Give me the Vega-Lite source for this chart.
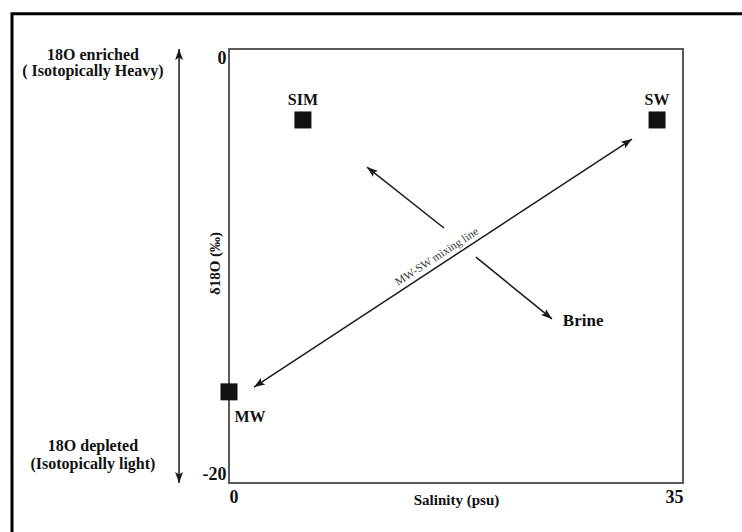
{
  "$schema": "https://vega.github.io/schema/vega-lite/v6.json",
  "width": 454,
  "height": 434,
  "autosize": {"type": "none"},
  "padding": {"left": 229, "top": 49, "right": 59, "bottom": 49},
  "background": "white",
  "config": {
    "view": {"stroke": "#5a5a5a", "strokeWidth": 2},
    "font": "Liberation Serif",
    "axis": {
      "grid": false,
      "ticks": false,
      "domain": false,
      "labelFont": "Liberation Serif",
      "labelFontWeight": "bold",
      "labelFontSize": 18,
      "labelColor": "#111",
      "titleFont": "Liberation Serif",
      "titleFontWeight": "bold",
      "titleFontSize": 15,
      "titleColor": "#111",
      "labelFlush": true
    }
  },
  "datasets": {
    "endmembers": [
      {"name": "SIM", "salinity": 5.7, "d18O": -3.27},
      {"name": "SW", "salinity": 33.0, "d18O": -3.27},
      {"name": "MW", "salinity": 0, "d18O": -15.8}
    ],
    "arrows": [
      {"id": "mixing", "salinity": 1.93, "d18O": -15.58, "salinity_end": 31.07, "d18O_end": -4.15},
      {"id": "toSIM", "salinity": 16.57, "d18O": -8.25, "salinity_end": 10.64, "d18O_end": -5.44},
      {"id": "toBrine", "salinity": 19.04, "d18O": -9.59, "salinity_end": 24.9, "d18O_end": -12.44},
      {"id": "isotope", "salinity": -3.85, "d18O": -20, "salinity_end": -3.85, "d18O_end": 0}
    ],
    "notes": [
      {"note": "Brine", "salinity": 27.3, "d18O": -12.53},
      {"note": "MW-SW mixing line", "salinity": 16.04, "d18O": -9.59},
      {"note": "18O enriched", "salinity": -10.49, "d18O": -0.28},
      {"note": "( Isotopically Heavy)", "salinity": -10.49, "d18O": -1.01},
      {"note": "18O depleted", "salinity": -10.49, "d18O": -18.29},
      {"note": "(Isotopically light)", "salinity": -10.49, "d18O": -19.12}
    ],
    "frame": [
      {"salinity": -16.73, "d18O": 1.62, "salinity_end": 120, "d18O_end": -120}
    ]
  },
  "encoding": {
    "x": {
      "field": "salinity",
      "type": "quantitative",
      "scale": {"domain": [0, 35], "nice": false, "zero": false},
      "axis": {"values": [0, 35], "title": "Salinity (psu)", "labelPadding": 5, "titleY": 9, "titleBaseline": "top", "titleAnchor": "middle"}
    },
    "y": {
      "field": "d18O",
      "type": "quantitative",
      "scale": {"domain": [-20, 0], "nice": false, "zero": false},
      "axis": {"values": [-20, 0], "labelExpr": "replace(datum.label, '\u2212', '-')", "title": "δ18O (‰)", "labelPadding": 3, "titleX": -15, "titleY": 214, "titleAngle": -90, "titleAlign": "center", "titleBaseline": "middle"}
    }
  },
  "layer": [
    {
      "data": {"name": "frame"},
      "mark": {"type": "rect", "fill": null, "filled": false, "stroke": "#000", "strokeWidth": 3},
      "encoding": {"x2": {"field": "salinity_end"}, "y2": {"field": "d18O_end"}}
    },
    {
      "data": {"name": "arrows"},
      "mark": {"type": "rule", "color": "#1a1a1a", "strokeWidth": 1.5},
      "encoding": {"x2": {"field": "salinity_end"}, "y2": {"field": "d18O_end"}}
    },
    {
      "data": {"name": "arrows"},
      "transform": [{"filter": "datum.id === 'mixing'"}],
      "mark": {"type": "point", "shape": "M0,0L0.4,1.1L0,0.85L-0.4,1.1Z", "size": 400, "filled": true, "color": "#1a1a1a", "opacity": 1, "angle": 56.7},
      "encoding": {"x": {"field": "salinity_end", "type": "quantitative"}, "y": {"field": "d18O_end", "type": "quantitative"}}
    },
    {
      "data": {"name": "arrows"},
      "transform": [{"filter": "datum.id === 'mixing'"}],
      "mark": {"type": "point", "shape": "M0,0L0.4,1.1L0,0.85L-0.4,1.1Z", "size": 400, "filled": true, "color": "#1a1a1a", "opacity": 1, "angle": 236.7}
    },
    {
      "data": {"name": "arrows"},
      "transform": [{"filter": "datum.id === 'toSIM'"}],
      "mark": {"type": "point", "shape": "M0,0L0.4,1.1L0,0.85L-0.4,1.1Z", "size": 400, "filled": true, "color": "#1a1a1a", "opacity": 1, "angle": 309.1},
      "encoding": {"x": {"field": "salinity_end", "type": "quantitative"}, "y": {"field": "d18O_end", "type": "quantitative"}}
    },
    {
      "data": {"name": "arrows"},
      "transform": [{"filter": "datum.id === 'toBrine'"}],
      "mark": {"type": "point", "shape": "M0,0L0.4,1.1L0,0.85L-0.4,1.1Z", "size": 400, "filled": true, "color": "#1a1a1a", "opacity": 1, "angle": 129.2},
      "encoding": {"x": {"field": "salinity_end", "type": "quantitative"}, "y": {"field": "d18O_end", "type": "quantitative"}}
    },
    {
      "data": {"name": "arrows"},
      "transform": [{"filter": "datum.id === 'isotope'"}],
      "mark": {"type": "point", "shape": "M0,0L0.4,1.1L0,0.85L-0.4,1.1Z", "size": 400, "filled": true, "color": "#1a1a1a", "opacity": 1, "angle": 0},
      "encoding": {"x": {"field": "salinity_end", "type": "quantitative"}, "y": {"field": "d18O_end", "type": "quantitative"}}
    },
    {
      "data": {"name": "arrows"},
      "transform": [{"filter": "datum.id === 'isotope'"}],
      "mark": {"type": "point", "shape": "M0,0L0.4,1.1L0,0.85L-0.4,1.1Z", "size": 400, "filled": true, "color": "#1a1a1a", "opacity": 1, "angle": 180}
    },
    {
      "data": {"name": "endmembers"},
      "mark": {"type": "point", "shape": "square", "size": 289, "filled": true, "color": "#111", "opacity": 1}
    },
    {
      "data": {"name": "endmembers"},
      "transform": [{"filter": "datum.name !== 'MW'"}],
      "mark": {"type": "text", "font": "Liberation Serif", "fontWeight": "bold", "fontSize": 16, "color": "#111", "align": "center", "baseline": "middle", "dy": -20},
      "encoding": {"text": {"field": "name"}}
    },
    {
      "data": {"name": "endmembers"},
      "transform": [{"filter": "datum.name === 'MW'"}],
      "mark": {"type": "text", "font": "Liberation Serif", "fontWeight": "bold", "fontSize": 16, "color": "#111", "align": "center", "baseline": "middle", "dx": 21, "dy": 25},
      "encoding": {"text": {"field": "name"}}
    },
    {
      "data": {"name": "notes"},
      "transform": [{"filter": "datum.note === 'Brine'"}],
      "mark": {"type": "text", "font": "Liberation Serif", "fontWeight": "bold", "fontSize": 17, "color": "#111", "align": "center", "baseline": "middle"},
      "encoding": {"text": {"field": "note"}}
    },
    {
      "data": {"name": "notes"},
      "transform": [{"filter": "datum.note === 'MW-SW mixing line'"}],
      "mark": {"type": "text", "font": "Liberation Serif", "fontSize": 11.5, "color": "#3a3a3a", "align": "center", "baseline": "middle", "angle": -33},
      "encoding": {"text": {"field": "note"}}
    },
    {
      "data": {"name": "notes"},
      "transform": [{"filter": "datum.note !== 'Brine' && datum.note !== 'MW-SW mixing line'"}],
      "mark": {"type": "text", "font": "Liberation Serif", "fontWeight": "bold", "fontSize": 16, "color": "#111", "align": "center", "baseline": "middle"},
      "encoding": {"text": {"field": "note"}}
    }
  ]
}
